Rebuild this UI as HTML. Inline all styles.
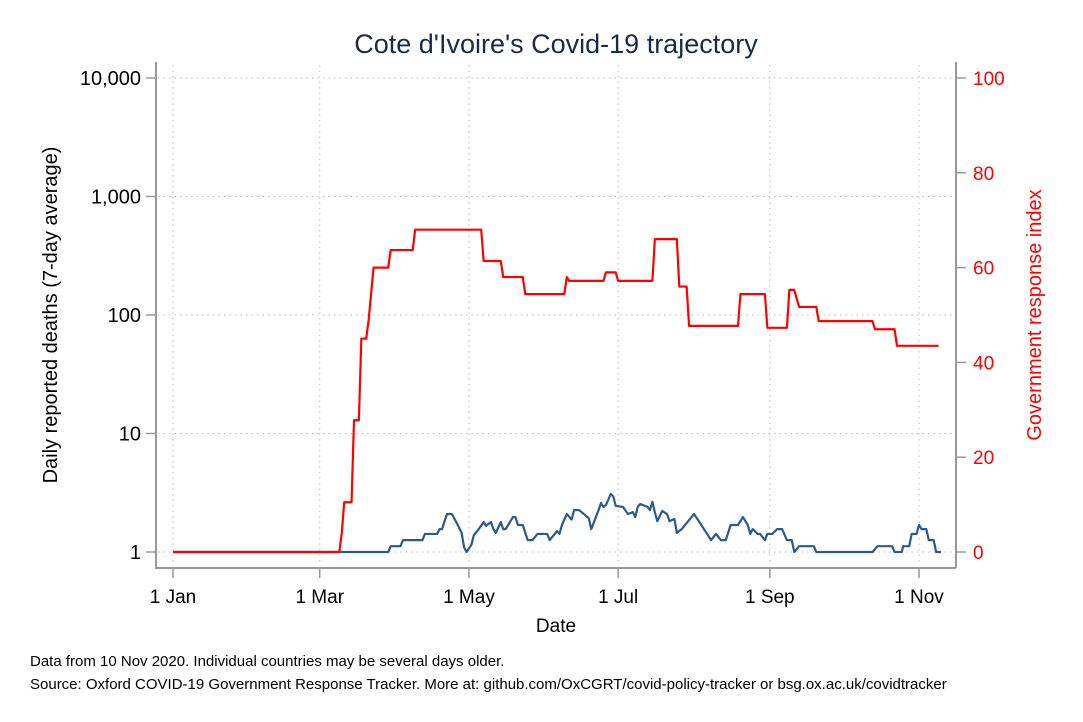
<!DOCTYPE html>
<html><head><meta charset="utf-8"><style>
body{margin:0;background:#fff;}
svg{display:block;font-family:"Liberation Sans",Arial,sans-serif;}
</style></head><body>
<svg id="chart" width="1083" height="722" viewBox="0 0 1083 722">
<rect width="1083" height="722" fill="#fff"/>
<text x="556" y="53" text-anchor="middle" font-size="27" fill="#1a2a48">Cote d'Ivoire's Covid-19 trajectory</text>
<g id="grid"></g>
<g id="axes"></g>
<g id="series"></g>
<text x="556" y="632" text-anchor="middle" font-size="19" fill="#000">Date</text>
<text transform="translate(57,315) rotate(-90)" text-anchor="middle" font-size="20" fill="#000">Daily reported deaths (7-day average)</text>
<text transform="translate(1041,315) rotate(-90)" text-anchor="middle" font-size="20" fill="#ff0000">Government response index</text>
<text x="30" y="666" font-size="15" fill="#000">Data from 10 Nov 2020. Individual countries may be several days older.</text>
<text x="30" y="689" font-size="15" fill="#000">Source: Oxford COVID-19 Government Response Tracker. More at: github.com/OxCGRT/covid-policy-tracker or bsg.ox.ac.uk/covidtracker</text>
</svg>
<script>
const xTickDays=[0,60,121,182,244,305];
const xTickLabels=["1 Jan","1 Mar","1 May","1 Jul","1 Sep","1 Nov"];
const leftTickVals=[1,10,100,1000,10000];
const leftTickLabels=["1","10","100","1,000","10,000"];
const rightTickVals=[0,20,40,60,80,100];
const deathDays=[0,88,89,93,94,102,103,108,109,110,112,114,116,118,119,120,122,123,125,127,128,130,131,132,134,135,136,139,140,141,143,145,147,149,153,154,157,158,159,161,163,164,166,168,170,171,174,175,176,177,179,180,181,184,186,188,189,190,191,194,195,196,197,198,200,202,203,205,206,208,213,215,220,222,224,226,228,231,233,235,236,237,239,240,242,243,245,247,249,251,253,254,256,262,263,286,288,294,295,298,298.5,301,302,304,305,306,308,309,311,312,314];
const deathVals=[1,1,1.12,1.12,1.26,1.26,1.42,1.42,1.56,1.56,2.09,2.09,1.76,1.45,1.10,1,1.15,1.39,1.56,1.79,1.66,1.79,1.56,1.45,1.79,1.56,1.56,1.97,1.97,1.69,1.69,1.26,1.26,1.42,1.42,1.26,1.50,1.42,1.69,2.09,1.88,2.26,2.26,2.09,1.93,1.56,2.26,2.59,2.40,2.49,3.09,2.94,2.45,2.40,2.09,2.17,1.97,2.40,2.54,2.40,2.26,2.65,2.17,1.82,2.22,2.09,1.82,1.90,1.45,1.56,2.09,1.82,1.26,1.42,1.26,1.26,1.69,1.69,1.97,1.69,1.42,1.56,1.42,1.42,1.26,1.42,1.42,1.56,1.56,1.26,1.26,1,1.12,1.12,1,1,1.12,1.12,1,1,1.12,1.12,1.42,1.42,1.69,1.56,1.56,1.26,1.26,1,1];
const govDays=[0,68,69,70,73,74,76,77,79,80,82,88,89,98,99,126,127,134,135,143,144,160,161,162,176,177,181,182,196,197,206,207,210,211,231,232,242,243,251,252,254,256,263,264,286,287,295,296,313];
const govVals=[0,0,4,10.5,10.5,27.8,27.8,45,45,49,60,60,63.7,63.7,68,68,61.4,61.4,58,58,54.4,54.4,58,57.2,57.2,59,59,57.2,57.2,66,66,56,56,47.7,47.7,54.4,54.4,47.3,47.3,55.3,55.3,51.7,51.7,48.7,48.7,47,47,43.5,43.5];

const NS="http://www.w3.org/2000/svg";
const L=156,R=956,T=62,B=568;
const xS=d=>173+d*(919-173)/305;
const yLog=v=>552-Math.log10(v)*118.5;
const yLin=v=>552-v*4.74;
function mk(tag,attrs,parent){const e=document.createElementNS(NS,tag);for(const k in attrs)e.setAttribute(k,attrs[k]);parent.appendChild(e);return e;}
const grid=document.getElementById('grid'),axes=document.getElementById('axes'),series=document.getElementById('series');
xTickDays.forEach((d,i)=>{
  const g=mk('line',{x1:xS(d),x2:xS(d),y1:T+3,y2:B-2,stroke:'#bbb','stroke-width':1,'stroke-dasharray':'1.5 4'},grid);
  
  
  const t=mk('line',{x1:xS(d),x2:xS(d),y1:B,y2:B+10,stroke:'#999','stroke-width':1.5},axes);
  
  
  const tx=mk('text',{x:xS(d),y:B+35,'text-anchor':'middle','font-size':19,fill:'#000'},axes);
  tx.textContent=xTickLabels[i];
  
  
});
leftTickVals.forEach((v,i)=>{
  const y=yLog(v);
  const g=mk('line',{x1:L+2,x2:R-2,y1:y,y2:y,stroke:'#bbb','stroke-width':1,'stroke-dasharray':'1.5 4'},grid);
  
  
  const t=mk('line',{x1:L-10,x2:L,y1:y,y2:y,stroke:'#999','stroke-width':1.5},axes);
  
  
  const tx=mk('text',{x:L-15,y:y+7,'text-anchor':'end','font-size':20,fill:'#000'},axes);
  tx.textContent=leftTickLabels[i];
  
  
});
rightTickVals.forEach(v=>{
  const y=yLin(v);
  const t=mk('line',{x1:R,x2:R+10,y1:y,y2:y,stroke:'#999','stroke-width':1.5},axes);
  
  
  const tx=mk('text',{x:R+17,y:y+7,'font-size':19,fill:'#ff0000'},axes);
  tx.textContent=String(v);
  
  
});
const la=mk('polyline',{points:`${L},${T} ${L},${B} ${R},${B}`,fill:'none',stroke:'#999','stroke-width':2},axes);


const ra=mk('line',{x1:R,x2:R,y1:T,y2:B,stroke:'#999','stroke-width':2},axes);


const dp=mk('polyline',{points:deathDays.map((d,i)=>xS(d)+','+yLog(deathVals[i])).join(' '),fill:'none',stroke:'#2a5b8c','stroke-width':2.2,'stroke-linejoin':'round'},series);


const gp=mk('polyline',{points:govDays.map((d,i)=>xS(d)+','+yLin(govVals[i])).join(' '),fill:'none',stroke:'#ff0000','stroke-width':2.2,'stroke-linejoin':'round'},series);


</script>
</body></html>
